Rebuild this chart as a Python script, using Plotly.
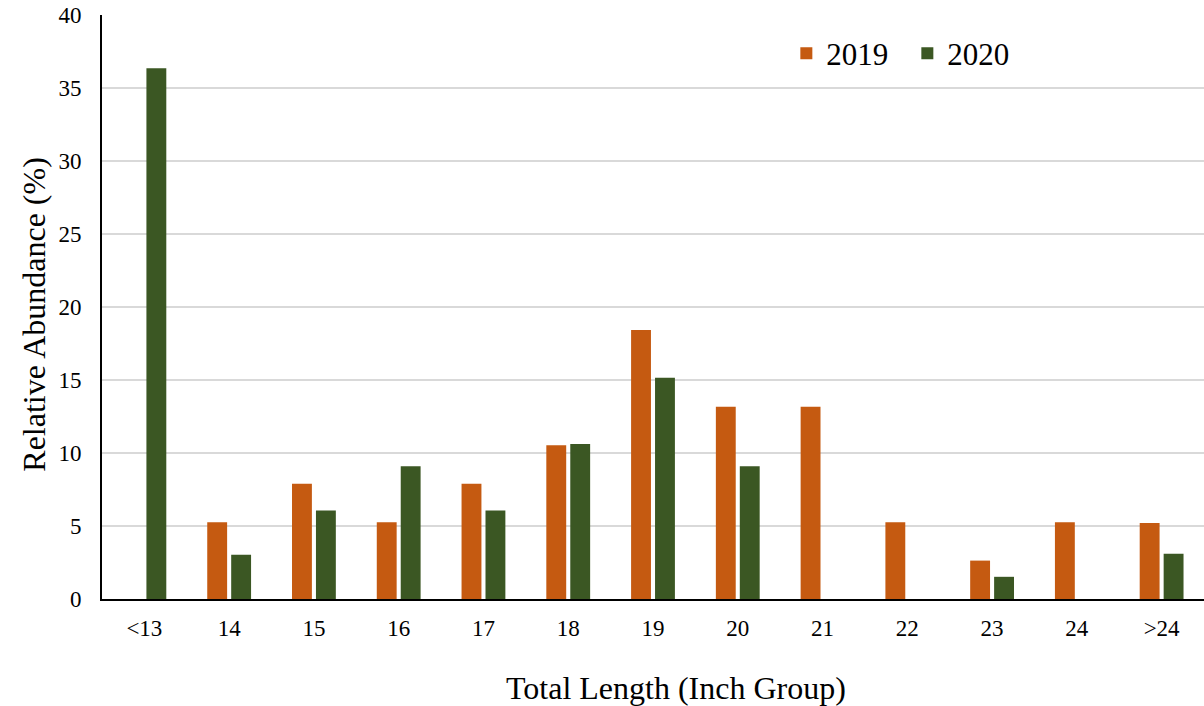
import plotly.graph_objects as go

categories = ["<13", "14", "15", "16", "17", "18", "19", "20", "21", "22", "23", "24", ">24"]
abund_2019 = [0, 5.26, 7.89, 5.26, 7.89, 10.53, 18.42, 13.16, 13.16, 5.26, 2.63, 5.26, 5.2]
abund_2020 = [36.36, 3.03, 6.06, 9.09, 6.06, 10.61, 15.15, 9.09, 0, 0, 1.52, 0, 3.1]
y_ticks = [0, 5, 10, 15, 20, 25, 30, 35, 40]
x_title = "Total Length (Inch Group)"
y_title = "Relative Abundance (%)"

FONT = "Liberation Serif"

fig = go.Figure()
fig.add_trace(go.Bar(x=categories, y=abund_2019, name="2019", marker_color="#C55A11",
                     marker_line_width=0))
fig.add_trace(go.Bar(x=categories, y=abund_2020, name="2020", marker_color="#3B5723",
                     marker_line_width=0))

fig.update_layout(
    width=1204, height=706,
    margin=dict(l=102, r=0, t=15, b=107, autoexpand=False),
    paper_bgcolor="white", plot_bgcolor="white",
    barmode="group", bargap=0.435, bargroupgap=0.17,
    font=dict(family=FONT, color="black", size=23),
    legend=dict(orientation="h", x=0.621, y=0.980, xanchor="left", yanchor="top",
                font=dict(size=31, family=FONT, color="black"), bgcolor="rgba(0,0,0,0)",
                entrywidth=76, entrywidthmode="pixels", tracegroupgap=0),
    xaxis=dict(
        showline=True, linecolor="black", linewidth=2, automargin=False,
        ticks="", tickfont=dict(size=23, family=FONT), showgrid=False, ticklabelstandoff=7,
    ),
    yaxis=dict(
        range=[0, 40.001], tickvals=y_ticks, showline=True, linecolor="black", linewidth=2,
        showgrid=True, gridcolor="#D9D9D9", gridwidth=2, zeroline=False, automargin=False,
        ticks="", tickfont=dict(size=23, family=FONT), ticklabelstandoff=14,
        ticklabeloverflow="allow",
    ),
    annotations=[
        dict(text=x_title, xref="paper", yref="paper", x=0.521, y=-0.152,
             xanchor="center", yanchor="middle", showarrow=False,
             font=dict(size=32, family=FONT, color="black")),
        dict(text=y_title, xref="paper", yref="paper", x=-0.0625, y=0.487,
             xanchor="center", yanchor="middle", showarrow=False, textangle=-90,
             font=dict(size=32, family=FONT, color="black")),
    ],
)

fig.write_html("out.html", config={"displayModeBar": False},
               post_script="document.body.style.margin='0';")
